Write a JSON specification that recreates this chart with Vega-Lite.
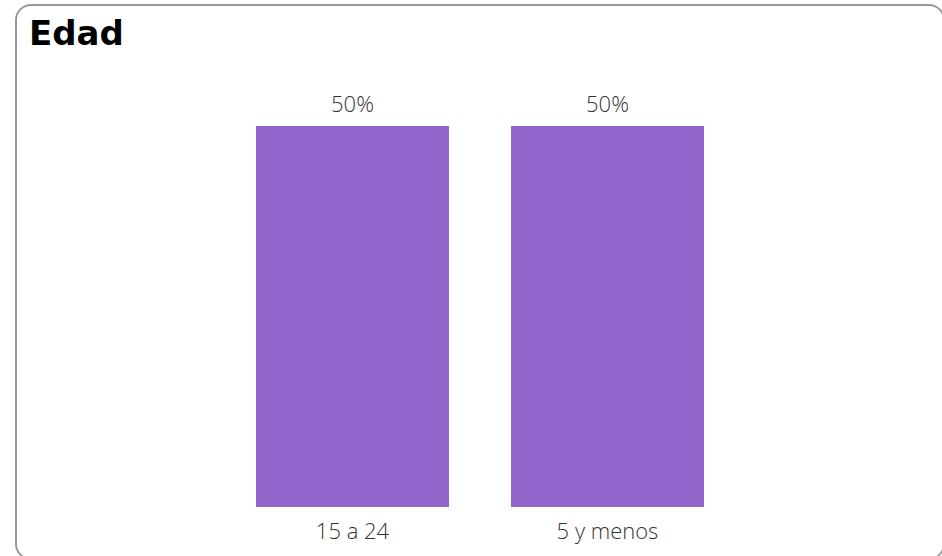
{
  "$schema": "https://vega.github.io/schema/vega-lite/v6.json",
  "width": 928,
  "height": 554,
  "autosize": {"type": "none"},
  "padding": {"left": 16, "top": 5, "right": 0, "bottom": 0},
  "background": "#ffffff",
  "title": {
    "text": "Edad",
    "anchor": "start",
    "frame": "group",
    "font": "DejaVu Sans",
    "fontWeight": "bold",
    "fontSize": 34,
    "color": "#000000",
    "dx": 13,
    "dy": 51
  },
  "data": {
    "values": [
      {"edad": "15 a 24", "pct": 0.5},
      {"edad": "5 y menos", "pct": 0.5}
    ]
  },
  "encoding": {
    "x": {
      "field": "edad",
      "type": "nominal",
      "sort": null,
      "scale": {"paddingInner": 0.2431, "paddingOuter": 0.9412},
      "axis": {
        "title": null,
        "domain": false,
        "ticks": false,
        "labelAngle": 0,
        "labelPadding": 0,
        "offset": -38,
        "labelFont": "Open Sans",
        "labelFontSize": 22,
        "labelFontWeight": 300,
        "labelColor": "#333333",
        "labelBaseline": "top"
      }
    },
    "y": {
      "field": "pct",
      "type": "quantitative",
      "scale": {"domain": [-0.06824, 0.6588], "nice": false, "zero": false},
      "axis": null
    }
  },
  "layer": [
    {
      "mark": {"type": "bar", "color": "#9364CC"},
      "encoding": {"y2": {"datum": 0}}
    },
    {
      "mark": {
        "type": "text",
        "baseline": "alphabetic",
        "dy": -14,
        "font": "Open Sans",
        "fontSize": 22,
        "fontWeight": 300,
        "color": "#333333"
      },
      "encoding": {
        "text": {"field": "pct", "type": "quantitative", "format": ".0%"}
      }
    }
  ],
  "config": {
    "view": {"stroke": "#999999", "strokeWidth": 2, "cornerRadius": 15},
    "axis": {"grid": false}
  }
}
